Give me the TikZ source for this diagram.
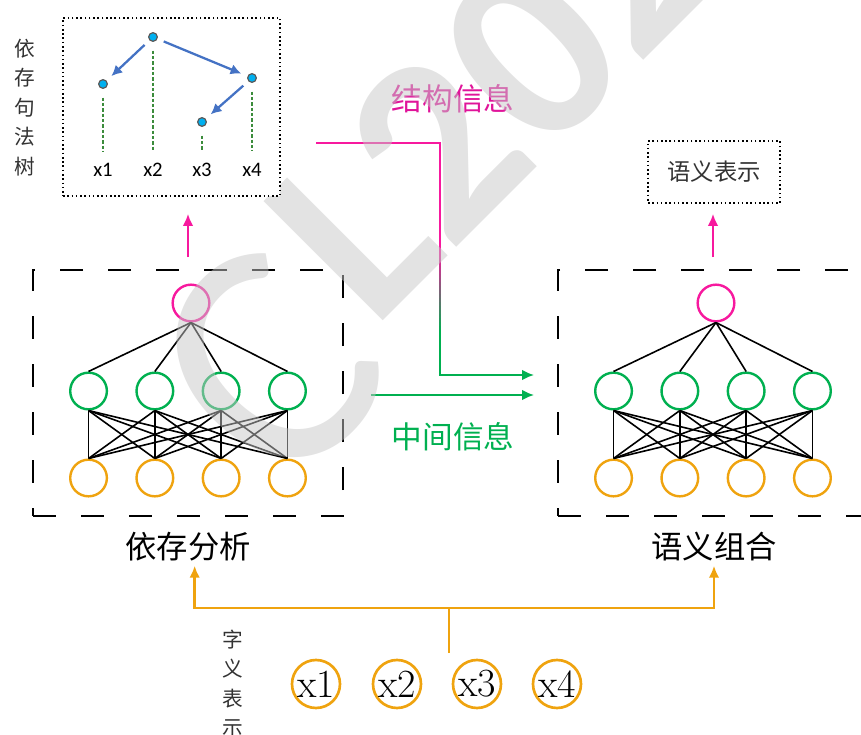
\documentclass[tikz,border=0pt]{standalone}
\usepackage{fontspec}
\newfontfamily\cjk{Noto Sans CJK SC}
\newfontfamily\calibri{Carlito}
\usepackage{tikz}
\usetikzlibrary{arrows.meta,positioning}

\definecolor{netpink}{HTML}{F7199E}
\definecolor{textpink}{HTML}{E0149A}
\definecolor{netgreen}{HTML}{00B050}
\definecolor{netorange}{HTML}{EFA30F}
\definecolor{treeblue}{HTML}{4472C4}
\definecolor{dotcyan}{HTML}{00B0F0}
\definecolor{treegreen}{HTML}{3C8C3C}

\begin{document}
\begin{tikzpicture}[x=0.75pt,y=-0.75pt,>={Latex[length=9pt,width=8pt]},
  neuron/.style={circle,draw,line width=1.8pt,minimum size=27.5pt,inner sep=0pt},
  wire/.style={line width=1.2pt},
  netbox/.style={draw,line width=1.4pt,dash pattern=on 17pt off 19pt,
    minimum width=232.5pt,minimum height=184.5pt,inner sep=0pt},
  dotbox/.style={draw,line width=1.2pt,dash pattern=on 1.2pt off 2pt,inner sep=0pt},
  title/.style={font=\cjk\fontsize{23.5pt}{23.5pt}\selectfont,inner sep=0pt},
  infotext/.style={font=\cjk\fontsize{23pt}{23pt}\selectfont,inner sep=0pt},
  sidetext/.style={font=\cjk\fontsize{15.5pt}{22.1pt}\selectfont,align=center,
    inner sep=0pt,text=black!80},
  treedot/.style={circle,draw=black!65,fill=dotcyan,line width=0.9pt,
    minimum size=6.5pt,inner sep=0pt},
  treeword/.style={font=\calibri\fontsize{15.5pt}{15.5pt}\selectfont,inner sep=0pt},
  deplink/.style={treegreen,line width=1.3pt,dash pattern=on 2.5pt off 1.5pt,
    shorten <=6.5pt,shorten >=9pt},
  headarc/.style={treeblue,line width=1.7pt,-{Latex[length=8pt,width=8pt]},
    shorten <=5pt,shorten >=5pt},
  pinkline/.style={netpink,line width=2pt},
  orangeline/.style={netorange,line width=2pt},
  wordcircle/.style={circle,draw=netorange,line width=2pt,minimum size=36pt,
    inner sep=0pt,font=\fontsize{30pt}{30pt}\selectfont},
  markletter/.style={font=\calibri\bfseries\fontsize{195pt}{195pt}\selectfont,
    text=black!22,opacity=0.5,rotate=45,inner sep=0pt},
  ]
  \clip (0,0) rectangle (861,735);

  \def\netblock#1#2{
    \node[netbox] (#1box) at (#2,393) {};
    \node[neuron,draw=netpink] (#1m) at (#2+3,303) {};
    \foreach \i in {1,...,4}
    {
      \node[neuron,draw=netgreen] (#1g\i) at (#2+66.3*\i-165.75,391) {};
      \node[neuron,draw=netorange] (#1o\i) at (#2+66.3*\i-165.75,478) {};
    }
    \foreach \i in {1,...,4}
    {
      \draw[wire] (#1m.south) -- (#1g\i.north);
      \foreach \j in {1,...,4}
        \draw[wire] (#1g\i.south) -- (#1o\j.north);
    }
  }
  \netblock{dp}{188}
  \netblock{sc}{713}

  \node[title] (dptitle) at (188,547) {依存分析};
  \node[title] (sctitle) at (714,547) {语义组合};

  % structure info, pink turning green
  \coordinate (sfrom) at (316,143);
  \draw[netpink,line width=1.5pt] (sfrom) -- (440,143) -- (440,250.5);
  \foreach \k in {0,...,19}
  {
    \pgfmathtruncatemacro\mixpct{5*\k}
    \draw[line width=1.5pt,color=netgreen!\mixpct!netpink] (440,250+4*\k) -- (440,254.5+4*\k);
  }
  \draw[netgreen,line width=1.5pt,->,shorten >=17.25pt] (440,329.5) |- ([yshift=13.5pt]scbox.west);
  \draw[netgreen,line width=1.5pt,->,shorten <=20.25pt,shorten >=17.25pt]
    ([yshift=-1.5pt]dpbox.east) -- ([yshift=-1.5pt]scbox.west);
  \node[infotext,text=textpink] (structxt) at (453,99) {结构信息};
  \node[infotext,text=netgreen] (midtxt) at (453,437) {中间信息};

  % character inputs
  \foreach \i/\x in {1/316,2/397,3/477,4/557}
    \node[wordcircle] (c\i) at (\x,684) {x\i};
  \node[sidetext] (charlabel) at (233,683.5) {字\\义\\表\\示};
  \coordinate (join) at (449,653);
  \coordinate (fork) at (449,608);
  \draw[orangeline] (join) -- (fork);
  \draw[orangeline,->,shorten >=3pt] (fork) -| ([xshift=5pt]dptitle.south);
  \draw[orangeline,->,shorten >=3pt] (fork) -| (sctitle.south);

  % outputs
  \node[dotbox,minimum width=99pt,minimum height=46.5pt,text=black!80,
    font=\cjk\fontsize{17.5pt}{17.5pt}\selectfont] (semrep) at (714,172) {语义表示};
  \draw[pinkline,->,shorten <=9pt,shorten >=7.5pt] (scbox.north) -- (scbox.north |- semrep.south);

  % watermark
  \node[markletter,font=\calibri\fontsize{245pt}{245pt}\selectfont] (markc) at (268,366) {C};
  \node[markletter,anchor=base west] (markl) at (373,331) {L2020};

  % dependency tree
  \node[dotbox,fill=white,minimum width=162.75pt,minimum height=133.5pt] (tree) at (171.5,107) {};
  \node[treedot] (t2) at (153,37) {};
  \node[treedot] (t1) at (103,84) {};
  \node[treedot] (t4) at (252,78) {};
  \node[treedot] (t3) at (202,122) {};
  \foreach \i/\x in {1/103,2/153,3/202,4/252}
  {
    \node[treeword] (w\i) at (\x,170) {x\i};
    \draw[deplink] (t\i) -- (w\i);
  }
  \draw[headarc] (t2) -- (t1);
  \draw[headarc] (t2) -- (t4);
  \draw[headarc] (t4) -- (t3);
  \node[sidetext] (treelabel) at (25,107.5) {依\\存\\句\\法\\树};
  \draw[pinkline,->,shorten <=9pt,shorten >=12.75pt] (dpbox.north) -- (dpbox.north |- tree.south);

\end{tikzpicture}
\end{document}
